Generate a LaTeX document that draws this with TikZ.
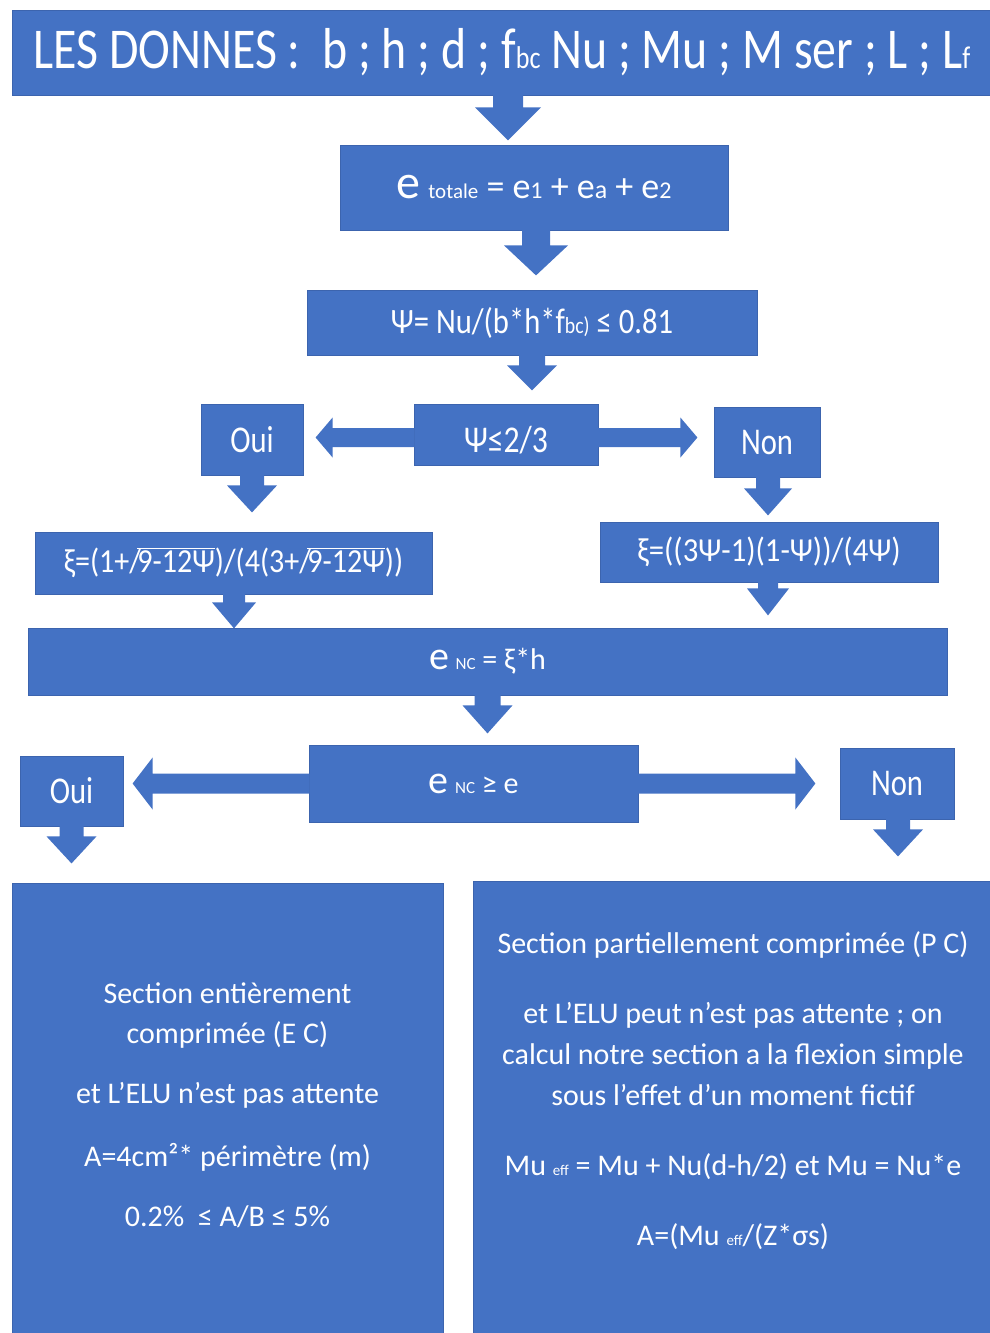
\documentclass[tikz,border=0pt]{standalone}
\usepackage{fontspec}
\usepackage{graphicx}
\setmainfont{Carlito}
\usetikzlibrary{calc}
\definecolor{blk}{HTML}{4472C4}
\definecolor{blkedge}{HTML}{3C64AE}
\tikzset{
  box/.style={fill=blk, draw=blkedge, line width=0.8pt, text=white, inner sep=0pt, align=center},
  txt/.style={text=white, inner sep=0pt, align=center},
  arrowfill/.style={fill=blk},
}
\newcommand\fs[1]{\fontsize{#1}{#1}\selectfont}
% square root drawn as a slash with a bar over its argument
\newcommand\rad[1]{\setbox0\hbox{#1}/\kern-0.12em\rlap{\rule[\dimexpr\ht0+0.05em\relax]{\wd0}{0.05em}}\box0}
% block arrows: start, shaft half-width, head half-width, shaft length, head length
\newcommand\arrdown[5]{\fill[arrowfill] (#1) ++({-#2},-1) -- ++(0,{#4+1}) -- ++({#2-#3},0) -- ++(#3,#5) -- ++(#3,{-#5}) -- ++({#2-#3},0) -- ++(0,{-#4-1}) -- cycle;}
\newcommand\arrleft[5]{\fill[arrowfill] (#1) ++(1,{-#2}) -- ++({-#4-1},0) -- ++(0,{#2-#3}) -- ++({-#5},#3) -- ++(#5,#3) -- ++(0,{#2-#3}) -- ++({#4+1},0) -- cycle;}
\newcommand\arrright[5]{\fill[arrowfill] (#1) ++(-1,{-#2}) -- ++({#4+1},0) -- ++(0,{#2-#3}) -- ++(#5,#3) -- ++({-#5},#3) -- ++(0,{#2-#3}) -- ++({-#4-1},0) -- cycle;}
\begin{document}
\begin{tikzpicture}[x=1pt,y=-1pt]
\useasboundingbox (0,0) rectangle (990,1333);

% input data
\node[box, minimum width=980pt, minimum height=85pt] (donnees) at (502,52.5)
  {\fs{55}\scalebox{0.87}[1.05]{LES DONNES :\ \ b ; h ; d ; f{\fs{30}bc} Nu ; Mu ; M ser ; L ; L{\fs{30}f}}};
\node[box, minimum width=388pt, minimum height=85pt] (etot) at (534,187.5)
  {\fs{48}e\,{\fs{21}totale}{\fs{36} = e{\fs{24}1} + e{\fs{26}a} + e{\fs{24}2}}};
\node[box, minimum width=450pt, minimum height=65pt] (psi) at (532,322.5)
  {\fs{34}\scalebox{0.9}[1.05]{Ψ= Nu/(b*h*f{\fs{22}bc)} ≤ 0.81}};

\arrdown{$(donnees.south)+(6,0)$}{15}{33}{12}{33}
\arrdown{$(etot.south)+(2,0)$}{14}{32}{15}{30}
\arrdown{psi.south}{13}{25}{10}{25}

% first test
\node[box, minimum width=184pt, minimum height=61pt] (cond1) at (506,434.5)
  {\raisebox{-6pt}[\height][\depth]{\fs{36}\scalebox{0.88}[1.05]{Ψ≤2/3}}};
\node[box, minimum width=102pt, minimum height=71pt] (oui1) at (252,439.5)
  {\fs{36}\scalebox{0.85}[1.05]{Oui}};
\node[box, minimum width=106pt, minimum height=70pt] (non1) at (767,442)
  {\fs{36}\scalebox{0.85}[1.05]{Non}};
\arrleft{$(cond1.west)+(0,3)$}{9.5}{20}{81}{17}
\arrright{$(cond1.east)+(0,3)$}{9.5}{20}{82}{17}

\node[box, minimum width=397pt, minimum height=62pt] (xil) at (233.5,563)
  {\fs{32}\scalebox{0.94}[1.05]{ξ=(1+\rad{9-12Ψ})/(4(3+\rad{9-12Ψ}))}};
\node[box, minimum width=338pt, minimum height=60pt] (xir) at (769,552)
  {\fs{32}\scalebox{0.96}[1.05]{ξ=((3Ψ-1)(1-Ψ))/(4Ψ)}};
\arrdown{oui1.south}{12}{25}{10}{27}
\arrdown{$(non1.south)+(1,0)$}{12}{24}{11}{27}

% neutral-axis depth
\node[box, minimum width=919pt, minimum height=67pt] (enc) at (487.5,661.5)
  {\fs{40}e\,{\fs{17}NC}\,{\fs{30}= ξ*h}};
\arrdown{$(xil.south)+(0.5,0)$}{11}{22}{8}{26}
\arrdown{$(xir.south)+(-1,0)$}{10}{21}{6}{27}
\arrdown{enc.south}{13}{25}{10}{28}

% second test
\node[box, minimum width=329pt, minimum height=77pt] (cond2) at (473.5,783.5)
  {\fs{40}e\,{\fs{17}NC}\,{\fs{30}≥ e}};
\node[box, minimum width=103pt, minimum height=70pt] (oui2) at (71.5,791)
  {\fs{36}\scalebox{0.85}[1.05]{Oui}};
\node[box, minimum width=114pt, minimum height=71pt] (non2) at (897,783.5)
  {\fs{36}\scalebox{0.85}[1.05]{Non}};
\arrleft{cond2.west}{10}{26}{156}{20}
\arrright{cond2.east}{10}{26}{157}{20}
\arrdown{oui2.south}{12}{25}{10}{27}
\arrdown{$(non2.south)+(1,0)$}{12}{25}{10}{27}

% results
\node[box, minimum width=431pt, minimum height=462pt] (ec) at (227.5,1114) {};
\node[box, minimum width=522pt, minimum height=464pt] (pc) at (734,1113) {};
\node[txt, font={\fontsize{30}{40}\selectfont}] (ectext) at (227.5,1105) {%
  Section entièrement\\ comprimée (E C)\\[20pt]
  et L’ELU n’est pas attente\\[23pt]
  A=4cm²* périmètre (m)\\[20pt]
  0.2\%\ \ ≤ A/B ≤ 5\%};
\node[txt, font={\fontsize{30}{41}\selectfont}] (pctext) at (733,1091) {%
  Section partiellement comprimée (P C)\\[29pt]
  et L’ELU peut n’est pas attente ; on\\
  calcul notre section a la flexion simple\\
  sous l’effet d’un moment fictif\\[29pt]
  Mu {\fs{15}eff} = Mu + Nu(d-h/2) et Mu = Nu*e\\[29pt]
  A=(Mu {\fs{15}eff}/(Z*σs)};
\end{tikzpicture}
\end{document}
